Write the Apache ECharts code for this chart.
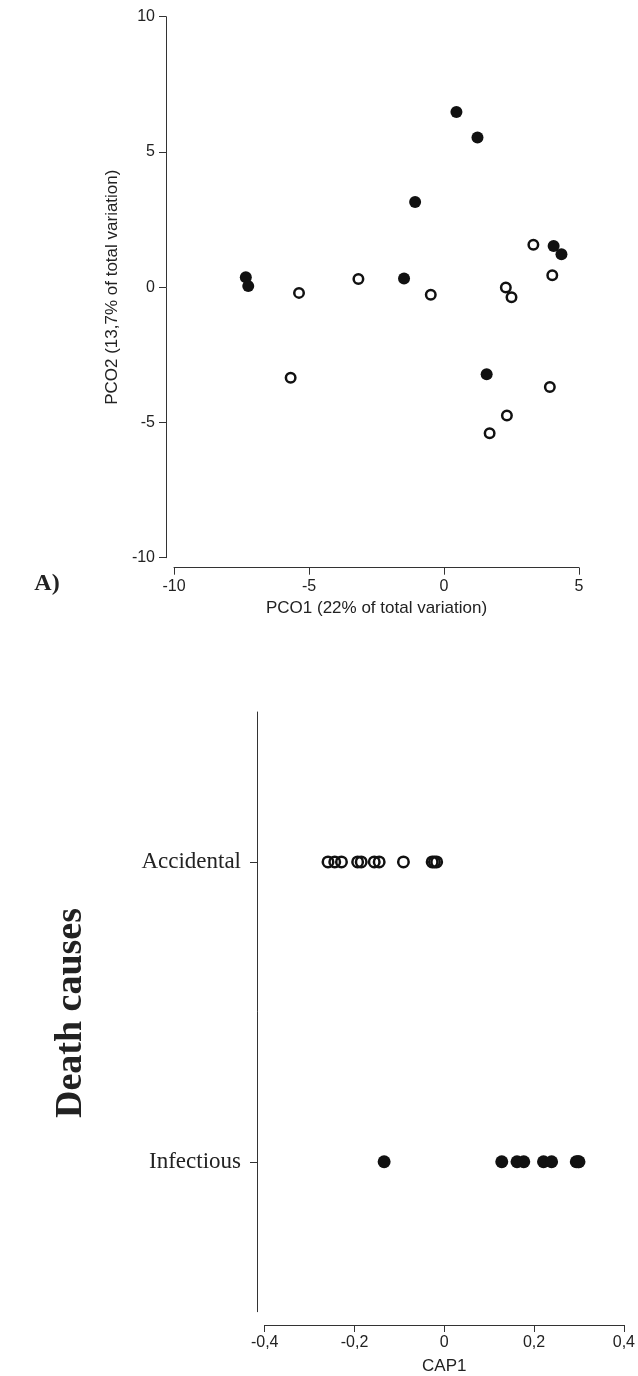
<!DOCTYPE html>
<html>
<head>
<meta charset="utf-8">
<script src="https://cdn.jsdelivr.net/npm/echarts@6/dist/echarts.min.js"></script>
<style>
html,body{margin:0;padding:0;background:#fff;}
#chart{width:638px;height:1376px;}
</style>
</head>
<body>
<div id="chart"></div>
<script>
// PCO plot (A)
const pcoFilledX = [-7.34, -7.25, -1.48, -1.07, 0.46, 1.24, 4.06, 4.35, 1.58];
const pcoFilledY = [0.37, 0.04, 0.32, 3.15, 6.48, 5.53, 1.52, 1.22, -3.22];
const pcoOpenX = [-5.37, -3.17, -0.49, 2.29, 2.50, 3.31, 4.01, -5.68, 3.92, 2.33, 1.69];
const pcoOpenY = [-0.21, 0.30, -0.28, -0.01, -0.37, 1.57, 0.44, -3.35, -3.69, -4.74, -5.40];
// CAP plot
const capCategories = ['Infectious', 'Accidental'];
const capAccidental = [-0.259, -0.244, -0.229, -0.193, -0.185, -0.156, -0.145, -0.091, -0.027, -0.022, -0.017];
const capInfectious = [-0.134, 0.128, 0.162, 0.177, 0.221, 0.239, 0.294, 0.298, 0.300];

const pcoXName = 'PCO1 (22% of total variation)';
const pcoYName = 'PCO2 (13,7% of total variation)';
const capXName = 'CAP1';
const capYTitle = 'Death causes';
const panelLabel = 'A)';

const ink = '#111111';
const axisCol = '#333333';
const txt = '#222222';
const sans = 'Liberation Sans, Arial, sans-serif';
const serif = 'Liberation Serif, Times New Roman, serif';

const chart = echarts.init(document.getElementById('chart'), null, {renderer: 'canvas'});

function valAxisBase() {
  return {
    type: 'value',
    splitLine: {show: false},
    axisLine: {show: true, onZero: false, lineStyle: {color: axisCol, width: 1}},
    axisTick: {show: true, length: 7, lineStyle: {color: axisCol, width: 1}},
    axisLabel: {color: txt, fontFamily: sans, fontSize: 16},
    nameTextStyle: {color: txt, fontFamily: sans, fontSize: 17},
    nameLocation: 'middle'
  };
}

const openStyle = {color: 'rgba(0,0,0,0)', borderColor: ink, borderWidth: 2.5, opacity: 1};
const fillStyle = {color: ink, opacity: 1};

chart.setOption({
  animation: false,
  backgroundColor: '#fff',
  grid: [
    {left: 174, right: 59, top: 16.7, bottom: 818.3, containLabel: false},
    {left: 264.7, right: 12.3, top: 712, bottom: 63, containLabel: false}
  ],
  xAxis: [
    Object.assign(valAxisBase(), {
      gridIndex: 0, min: -10, max: 5, interval: 5, offset: 10,
      name: pcoXName, nameGap: 32,
      axisLabel: {color: txt, fontFamily: sans, fontSize: 16, margin: 11}
    }),
    Object.assign(valAxisBase(), {
      gridIndex: 1, min: -0.4, max: 0.4, interval: 0.2, offset: 13.3,
      name: capXName, nameGap: 33,
      axisLabel: {color: txt, fontFamily: sans, fontSize: 16, margin: 10,
        formatter: v => (Math.abs(v) < 1e-9 ? '0' : v.toFixed(1).replace('.', ','))}
    })
  ],
  yAxis: [
    Object.assign(valAxisBase(), {
      gridIndex: 0, min: -10, max: 10, interval: 5, offset: 8,
      name: pcoYName, nameGap: 38,
      axisLabel: {color: txt, fontFamily: sans, fontSize: 16, margin: 11}
    }),
    {
      gridIndex: 1, type: 'category', data: capCategories, offset: 7.7,
      splitLine: {show: false},
      axisLine: {show: true, onZero: false, lineStyle: {color: axisCol, width: 1}},
      axisTick: {show: true, alignWithLabel: true, length: 7, lineStyle: {color: axisCol, width: 1}},
      axisLabel: {color: txt, fontFamily: serif, fontSize: 23, margin: 16}
    }
  ],
  series: [
    {type: 'scatter', xAxisIndex: 0, yAxisIndex: 0, symbol: 'circle', symbolSize: 12,
     itemStyle: fillStyle, data: pcoFilledX.map((x, i) => [x, pcoFilledY[i]])},
    {type: 'scatter', xAxisIndex: 0, yAxisIndex: 0, symbol: 'circle', symbolSize: 9.5,
     itemStyle: openStyle, data: pcoOpenX.map((x, i) => [x, pcoOpenY[i]])},
    {type: 'scatter', xAxisIndex: 1, yAxisIndex: 1, symbol: 'circle', symbolSize: 10.5,
     itemStyle: openStyle, data: capAccidental.map(x => [x, 'Accidental'])},
    {type: 'scatter', xAxisIndex: 1, yAxisIndex: 1, symbol: 'circle', symbolSize: 13,
     itemStyle: fillStyle, data: capInfectious.map(x => [x, 'Infectious'])}
  ],
  graphic: [
    {type: 'text', x: 47, y: 584,
     style: {text: panelLabel, fill: txt, font: 'bold 24px ' + serif, align: 'center', verticalAlign: 'middle'}},
    {type: 'text', x: 71, y: 1013, rotation: Math.PI / 2,
     style: {text: capYTitle, fill: txt, font: 'bold 38px ' + serif, align: 'center', verticalAlign: 'middle'}}
  ]
});
</script>
</body>
</html>
